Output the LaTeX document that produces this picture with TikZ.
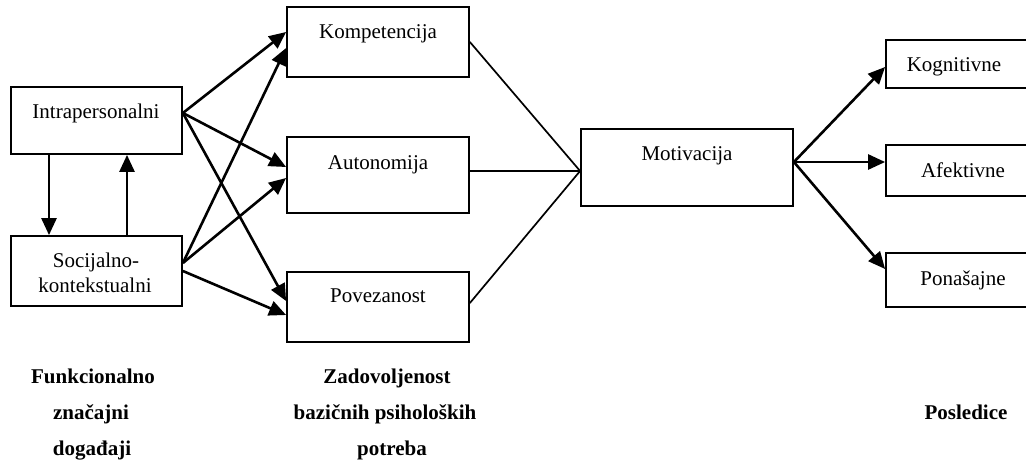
\documentclass[tikz,border=0pt]{standalone}
\usepackage{fontspec}
\setmainfont{Liberation Serif}
\usetikzlibrary{arrows.meta}
\begin{document}
\begin{tikzpicture}[x=1pt,y=-1pt,
  box/.style={draw, line width=1.8pt, inner sep=0pt},
  lbl/.style={anchor=base, inner sep=0pt, font=\fontsize{21}{25}\selectfont},
  head/.style={anchor=base, inner sep=0pt, font=\fontsize{21}{25}\selectfont\bfseries},
  arr/.style={line width=2.6pt, -{Triangle[length=17pt,width=15pt]}},
  link/.style={line width=1.7pt},
]
\clip (0,0) rectangle (1026,463);

% boxes
\node[box, minimum width=171pt, minimum height=67pt] (intra) at (96.5,120.5) {};
\node[box, minimum width=171pt, minimum height=70pt] (soc)   at (96.5,271) {};
\node[box, minimum width=182pt, minimum height=70pt] (komp)  at (378,42) {};
\node[box, minimum width=182pt, minimum height=76pt] (auto)  at (378,175) {};
\node[box, minimum width=182pt, minimum height=70pt] (pove)  at (378,307) {};
\node[box, minimum width=212pt, minimum height=77pt] (moti)  at (687,167.5) {};
\node[box, minimum width=144pt, minimum height=48pt] (kogn)  at (958,64) {};
\node[box, minimum width=144pt, minimum height=51pt] (afek)  at (958,170.5) {};
\node[box, minimum width=144pt, minimum height=54pt] (pona)  at (958,280) {};

% box texts
\node[lbl] (intraT) at (96,118) {Intrapersonalni};
\node[lbl] (socT1)  at (96,267) {Socijalno-};
\node[lbl] (socT2)  at (95,292) {kontekstualni};
\node[lbl] (kompT)  at (378,38) {Kompetencija};
\node[lbl] (autoT)  at (378,169) {Autonomija};
\node[lbl] (poveT)  at (378,302) {Povezanost};
\node[lbl] (motiT)  at (687,160) {Motivacija};
\node[lbl] (kognT)  at (954,71) {Kognitivne};
\node[lbl] (afekT)  at (963,177) {Afektivne};
\node[lbl] (ponaT)  at (963,285) {Ponašajne};

% group headings
\node[head] (h1a) at (93,383) {Funkcionalno};
\node[head] (h1b) at (91,419) {značajni};
\node[head] (h1c) at (92,455) {događaji};
\node[head] (h2a) at (387,383) {Zadovoljenost};
\node[head] (h2b) at (385,419) {bazičnih psiholoških};
\node[head] (h2c) at (392,455) {potreba};
\node[head] (h3)  at (966,419) {Posledice};

% mutual influence
\draw[arr] ([xshift=-47.5pt]intra.south) -- ([xshift=-47.5pt]soc.north);
\draw[arr] ([xshift=30.5pt]soc.north) -- ([xshift=30.5pt]intra.south);

% events to needs
\draw[arr] ([yshift=7.5pt]intra.east) -- ([yshift=10pt]komp.west);
\draw[arr] ([yshift=7.5pt]intra.east) -- ([yshift=8pt]auto.west);
\draw[arr] ([yshift=7.5pt]intra.east) -- ([yshift=6pt]pove.west);
\draw[arr] ([yshift=8pt]soc.east) -- ([yshift=-6pt]komp.west);
\draw[arr] ([yshift=8pt]soc.east) -- ([yshift=-3pt]auto.west);
\draw[arr] (soc.east) -- ([yshift=-8pt]pove.west);

% needs to motivation
\draw[link] (komp.east) -- ([yshift=-3.5pt]moti.west);
\draw[link] ([yshift=4pt]auto.east) -- ([yshift=-3.5pt]moti.west);
\draw[link] ([yshift=4pt]pove.east) -- ([yshift=-3.5pt]moti.west);

% motivation to outcomes
\draw[arr] ([yshift=5.5pt]moti.east) -- ([yshift=-3pt]kogn.west);
\draw[arr] ([yshift=5.5pt]moti.east) -- ([yshift=8.5pt]afek.west);
\draw[arr] ([yshift=5.5pt]moti.east) -- ([yshift=11pt]pona.west);
\end{tikzpicture}
\end{document}
